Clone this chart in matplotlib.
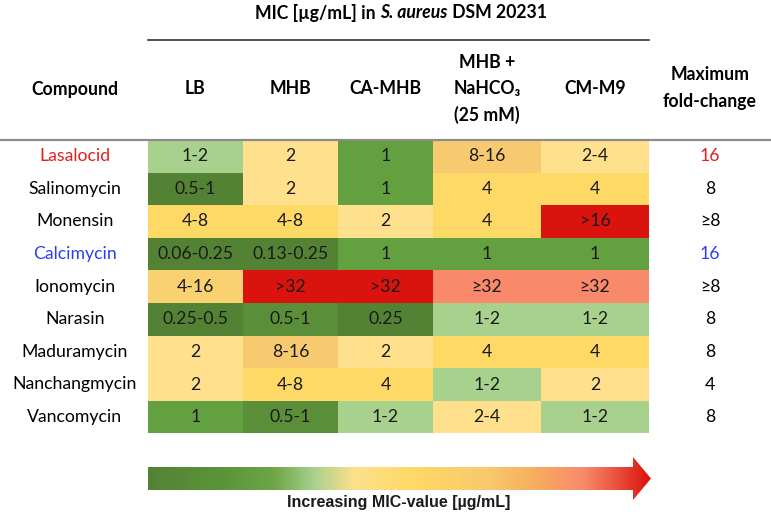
import numpy as np
import matplotlib.pyplot as plt
from matplotlib.colors import ListedColormap, LinearSegmentedColormap
from matplotlib.patches import Polygon

plt.rcParams['font.family'] = ['Lato', 'DejaVu Sans']

compounds = ["Lasalocid", "Salinomycin", "Monensin", "Calcimycin", "Ionomycin",
             "Narasin", "Maduramycin", "Nanchangmycin", "Vancomycin"]
media = ["LB", "MHB", "CA-MHB", "MHB +\nNaHCO₃\n(25 mM)", "CM-M9"]
mic = [
    ["1-2", "2", "1", "8-16", "2-4"],
    ["0.5-1", "2", "1", "4", "4"],
    ["4-8", "4-8", "2", "4", ">16"],
    ["0.06-0.25", "0.13-0.25", "1", "1", "1"],
    ["4-16", ">32", ">32", "≥32", "≥32"],
    ["0.25-0.5", "0.5-1", "0.25", "1-2", "1-2"],
    ["2", "8-16", "2", "4", "4"],
    ["2", "4-8", "4", "1-2", "2"],
    ["1", "0.5-1", "1-2", "2-4", "1-2"],
]
# colour class of each cell (0 = lowest MIC ... 9 = highest)
level = [
    [3, 4, 2, 7, 4],
    [0, 4, 2, 5, 5],
    [5, 5, 4, 5, 9],
    [0, 0, 2, 2, 2],
    [6, 9, 9, 8, 8],
    [0, 1, 0, 3, 3],
    [4, 7, 4, 5, 5],
    [4, 5, 5, 3, 4],
    [2, 1, 3, 4, 3],
]
fold_change = ["16", "8", "≥8", "16", "≥8", "8", "8", "4", "8"]
highlight = {"Lasalocid": "#e3201e", "Calcimycin": "#2a40f0"}

palette = ["#548235", "#5a8e38", "#63a03f", "#a9d18e", "#ffe08c",
           "#ffd966", "#fad170", "#f8ca6f", "#f8896a", "#db130e"]

# layout (pixels)
W, H = 771, 512
col_edges = [148, 243, 338, 433, 541, 649]
row_top, row_h = 140, 32.6
fs = 12.7

fig = plt.figure(figsize=(W / 100, H / 100), dpi=100)
ax = fig.add_axes([0, 0, 1, 1])
ax.set_xlim(0, W)
ax.set_ylim(H, 0)
ax.axis('off')

# heat table
row_edges = row_top + row_h * np.arange(len(compounds) + 1)
ax.pcolormesh(col_edges, row_edges, np.array(level), cmap=ListedColormap(palette),
              vmin=-0.5, vmax=len(palette) - 0.5, shading='flat')

xc = [(a + b) / 2 for a, b in zip(col_edges[:-1], col_edges[1:])]
for i, name in enumerate(compounds):
    yc = row_top + row_h * (i + 0.5)
    c = highlight.get(name, "black")
    ax.text(75, yc, name, ha='center', va='center', fontsize=fs, color=c)
    for j, val in enumerate(mic[i]):
        ax.text(xc[j], yc, val, ha='center', va='center', fontsize=fs, color='#1a1a1a')
    ax.text(710, yc, fold_change[i], ha='center', va='center', fontsize=fs, color=c)

# header
ax.text(75, 89, "Compound", ha='center', va='center', fontsize=fs, fontweight='bold')
for j, m in enumerate(media):
    ax.text(xc[j], 89, m, ha='center', va='center', fontsize=fs, fontweight='bold',
            linespacing=1.63, multialignment='center')
ax.text(710, 88, "Maximum\nfold-change", ha='center', va='center', fontsize=fs,
        fontweight='bold', linespacing=1.7, multialignment='center')

ax.plot([col_edges[0], col_edges[-1]], [40, 40], color='#333333', lw=1.2)
ax.plot([0, W], [140, 140], color='#8c8c8c', lw=1.6)

# title with italic species name
parts = [("MIC [µg/mL] in ", 'normal'), ("S. aureus", 'italic'), (" DSM 20231", 'normal')]
fig.canvas.draw()
r = fig.canvas.get_renderer()
texts = [ax.text(0, 13, s, ha='left', va='center', fontsize=fs, fontweight='bold',
                 fontstyle=st) for s, st in parts]
inv = ax.transData.inverted()
widths = []
for t in texts:
    bb = t.get_window_extent(r)
    widths.append(inv.transform((bb.x1, 0))[0] - inv.transform((bb.x0, 0))[0])
x = 401 - sum(widths) / 2
for t, w in zip(texts, widths):
    t.set_x(x)
    x += w

# gradient arrow
arrow_stops = [(0.0, "#548235"), (0.15, "#5c9539"), (0.25, "#6ea647"), (0.33, "#a9d18e"),
               (0.41, "#fde08c"), (0.53, "#ffd966"), (0.68, "#f9c86c"), (0.76, "#f6b25e"),
               (0.87, "#f8896a"), (1.0, "#db130e")]
arrow_cmap = LinearSegmentedColormap.from_list("arrow", arrow_stops)
x0, x1, xh, tip = 148, 651, 633, 651
yb0, yb1, yh0, yh1 = 467, 490, 457, 500
ym = (yb0 + yb1) / 2
poly = Polygon([(x0, yb0), (xh, yb0), (xh, yh0), (tip, ym), (xh, yh1), (xh, yb1), (x0, yb1)],
               closed=True, facecolor='none', edgecolor='none')
ax.add_patch(poly)
grad = np.linspace(0, 1, 256).reshape(1, -1)
im = ax.imshow(grad, extent=(x0, x1, yh1, yh0), cmap=arrow_cmap, aspect='auto',
               interpolation='bicubic')
im.set_clip_path(poly)
ax.set_xlim(0, W)
ax.set_ylim(H, 0)

ax.text(399, 502, "Increasing MIC-value [µg/mL]", ha='center', va='center', fontsize=11.5,
        fontweight='bold', family=['Liberation Sans Narrow', 'Liberation Sans', 'DejaVu Sans'],
        color='#1a1a1a')

fig.savefig("out.png", dpi=100)
